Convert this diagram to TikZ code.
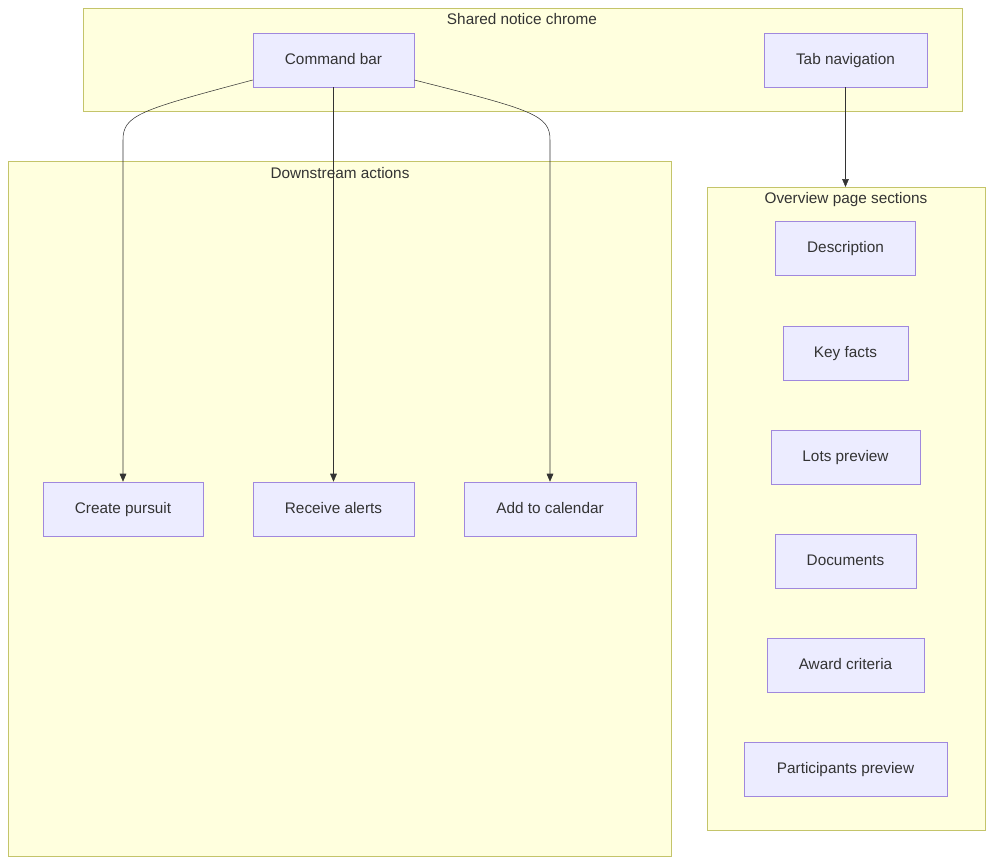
\documentclass[tikz,border=0pt]{standalone}
\usepackage{fontspec}
\setmainfont{Liberation Sans}
\usetikzlibrary{positioning,arrows.meta}
\definecolor{clfill}{HTML}{FFFFDE}
\definecolor{cldraw}{HTML}{C4C46A}
\definecolor{bxfill}{HTML}{ECECFF}
\definecolor{bxdraw}{HTML}{A088DD}
\definecolor{txt}{HTML}{333333}

\begin{document}
\begin{tikzpicture}[x=0.75pt,y=-0.75pt,
    box/.style={draw=bxdraw, fill=bxfill, minimum height=40.5pt, inner xsep=0pt, text height=8.5pt, text depth=2.5pt, text=txt, font=\fontsize{11.5}{13}\selectfont},
    cluster/.style={draw=cldraw, fill=clfill},
    cltitle/.style={text=txt, font=\fontsize{11.5}{13}\selectfont, anchor=north},
    flow/.style={draw=txt, -{Triangle[length=6pt,width=5pt]}}
    ]
    \useasboundingbox (0,0) rectangle (993,864);
    % clusters
    \draw[cluster] (83,8) rectangle (962,111);
    \node[cltitle] (tchrome) at (522,9) {Shared notice chrome};
    \draw[cluster] (8,161) rectangle (671,856);
    \node[cltitle] (tdown) at (340,163) {Downstream actions};
    \draw[cluster] (707,187) rectangle (985,830);
    \node[cltitle] (tover) at (846,188) {Overview page sections};
    % nodes
    \node[box, minimum width=120.75pt] (cmd) at (333.5,60) {Command bar};
    \node[box, minimum width=122.25pt] (tabs) at (845.5,60) {Tab navigation};
    \node[box, minimum width=120pt] (pursuit) at (123,509) {Create pursuit};
    \node[box, minimum width=120.75pt] (alerts) at (333.5,509) {Receive alerts};
    \node[box, minimum width=129pt] (calendar) at (550,509) {Add to calendar};
    \node[box, minimum width=105pt] (desc) at (845.5,248) {Description};
    \node[box, minimum width=93.75pt] (facts) at (845.5,353) {Key facts};
    \node[box, minimum width=111.75pt] (lots) at (845.5,457) {Lots preview};
    \node[box, minimum width=105.75pt] (docs) at (845.5,561) {Documents};
    \node[box, minimum width=117.75pt] (award) at (845.5,665) {Award criteria};
    \node[box, minimum width=152.25pt] (parts) at (845.5,769) {Participants preview};
    % connectors
    \draw[flow] (cmd.west |- 0,80) .. controls (140,110) and (123,115) .. (123,140) -- (pursuit.north);
    \draw[flow] (cmd) -- (alerts);
    \draw[flow] (cmd.east |- 0,80) .. controls (533,110) and (550,115) .. (550,140) -- (calendar.north);
    \draw[flow] (tabs) -- (845.5,187);
\end{tikzpicture}
\end{document}
